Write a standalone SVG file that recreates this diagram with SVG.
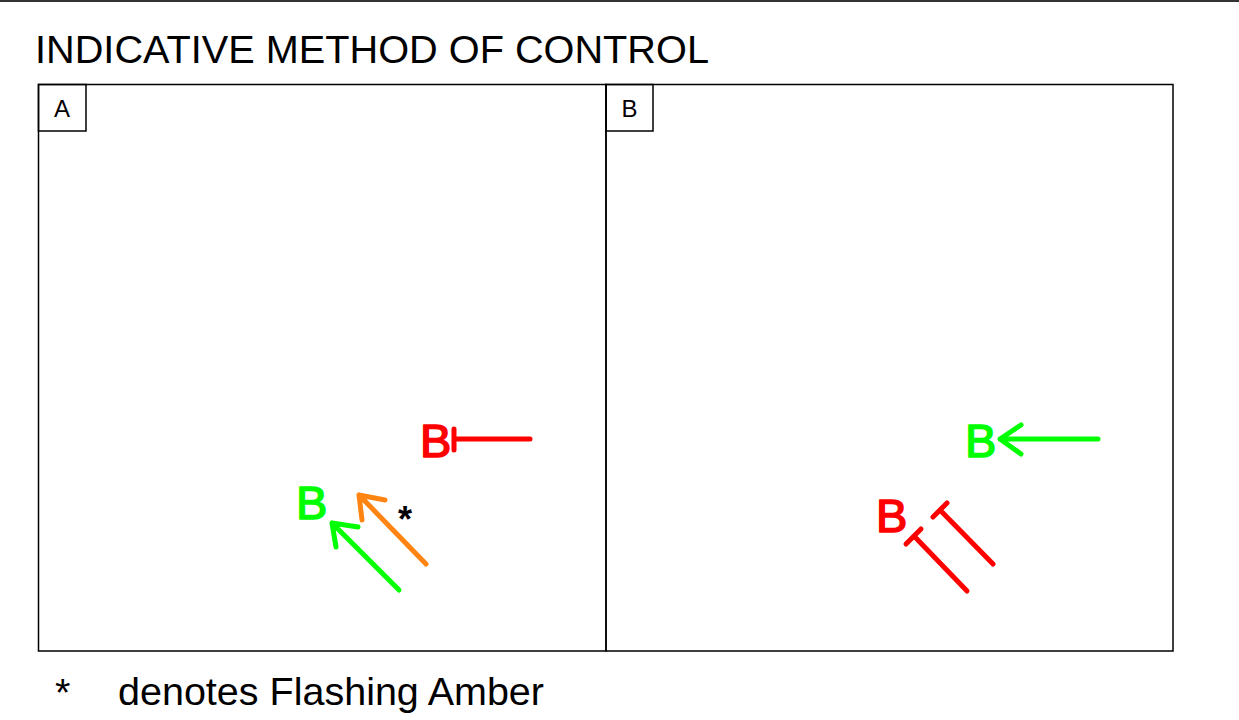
<svg xmlns="http://www.w3.org/2000/svg" width="1239" height="720" viewBox="0 0 1239 720">
<style>
text{font-family:"Liberation Sans",Arial,sans-serif}
.frame{fill:none;stroke:#000;stroke-width:1.5}
.lbl{font-size:24px;fill:#000}
.sig{font-size:47px;stroke-width:1.6;stroke-linejoin:round}
.ln{fill:none;stroke-width:5;stroke-linecap:round;stroke-linejoin:round}
.red{stroke:#FF0000}
.grn{stroke:#00FF00}
.org{stroke:#FF8411}
</style>
<rect width="1239" height="720" fill="#fff"/>
<line x1="0" y1="1" x2="1239" y2="1" stroke="#333" stroke-width="2"/>
<text x="35" y="63" font-size="39.7" fill="#000">INDICATIVE METHOD OF CONTROL</text>

<g id="panelA">
<rect class="frame" x="38.5" y="84.5" width="567.5" height="566.5"/>
<rect class="frame" x="38.5" y="84.5" width="47.5" height="46.5"/>
<text class="lbl" x="62" y="117" text-anchor="middle">A</text>
</g>
<g id="panelB">
<rect class="frame" x="606" y="84.5" width="567" height="566.5"/>
<rect class="frame" x="606" y="84.5" width="47" height="46.5"/>
<text class="lbl" x="629.5" y="117" text-anchor="middle">B</text>
</g>

<g id="signalsA">
<text class="sig" x="420" y="457" fill="#FF0000" stroke="#FF0000">B</text>
<text class="sig" x="296" y="519" fill="#00FF00" stroke="#00FF00">B</text>
<text x="398" y="532" font-size="36" font-weight="bold" fill="#000">*</text>
</g>
<g id="signalsB">
<text class="sig" x="965" y="457" fill="#00FF00" stroke="#00FF00">B</text>
<text class="sig" x="876" y="532" fill="#FF0000" stroke="#FF0000">B</text>
</g>

<g id="connectors">
<path class="ln red" d="M530 439 H454 M454 429 V450"/>
<path class="ln grn" d="M399 590 L332 523 M358 527 L332 523 L336 547"/>
<path class="ln org" d="M426 564 L359 495 M385 500 L359 495 L362 520"/>
<path class="ln grn" d="M1098 439 H1000 M1021 425 L1000 439 L1021 454"/>
<path class="ln red" d="M993 564 L940 510 M933 517 L947 503"/>
<path class="ln red" d="M967 591 L914 536 M906 544 L921 529"/>
</g>

<g id="footer">
<text x="55" y="706" font-size="39.5" fill="#000">*</text>
<text x="118" y="705" font-size="39.5" fill="#000">denotes Flashing Amber</text>
</g>
</svg>
